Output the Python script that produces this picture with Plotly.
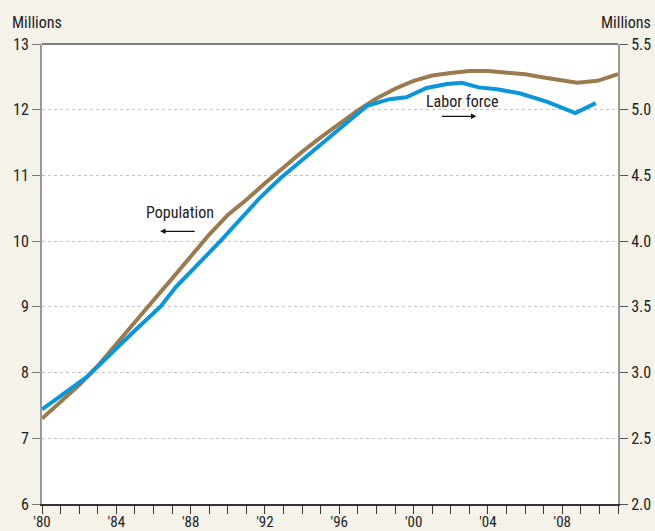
import plotly.graph_objects as go

# Population (left axis, millions)
pop_years = [1980, 1981, 1982, 1983, 1984, 1985, 1986, 1987, 1988, 1989, 1990,
             1991, 1992, 1993, 1994, 1995, 1996, 1997, 1998, 1999, 2000, 2001,
             2002, 2003, 2004, 2005, 2006, 2007, 2008, 2008.8, 2009.9, 2011]
population = [7.30, 7.55, 7.81, 8.10, 8.44, 8.77, 9.10, 9.43, 9.77, 10.10, 10.40,
              10.63, 10.88, 11.13, 11.36, 11.58, 11.79, 11.99, 12.17, 12.32, 12.44, 12.52,
              12.56, 12.59, 12.59, 12.57, 12.54, 12.49, 12.44, 12.41, 12.44, 12.54]

# Labor force (right axis, millions)
lf_years = [1980, 1982.4, 1985, 1986.4, 1987.2, 1989.6, 1991.7, 1992.8, 1997.5,
            1998.7, 1999.6, 2000.7, 2001.8, 2002.6, 2003.5, 2004.5, 2005.7, 2007.2,
            2008.7, 2009.8]
labor_force = [2.72, 2.965, 3.32, 3.505, 3.65, 4.0, 4.325, 4.475, 5.03,
               5.08, 5.095, 5.165, 5.195, 5.205, 5.17, 5.155, 5.125, 5.06,
               4.975, 5.05]

tick_years = list(range(1980, 2012))
tick_labels = ["'" + str(y)[2:] if (y - 1980) % 4 == 0 else "" for y in tick_years]
left_ticks = [6, 7, 8, 9, 10, 11, 12, 13]
right_ticks = [2.0, 2.5, 3.0, 3.5, 4.0, 4.5, 5.0, 5.5]

BROWN = "#9a7a4f"
BLUE = "#0a96d8"
BG = "#f5f2ea"
FONT = "Liberation Sans Narrow, Roboto Condensed, Arial Narrow, sans-serif"

fig = go.Figure()
fig.add_trace(go.Scatter(x=pop_years, y=population, mode="lines",
                         line=dict(color=BROWN, width=4), yaxis="y",
                         showlegend=False, hoverinfo="skip"))
fig.add_trace(go.Scatter(x=lf_years, y=labor_force, mode="lines",
                         line=dict(color=BLUE, width=4), yaxis="y2",
                         showlegend=False, hoverinfo="skip"))

fig.update_layout(
    template="none",
    width=655, height=531, autosize=False,
    paper_bgcolor=BG, plot_bgcolor="white",
    margin=dict(l=42, r=37, t=44, b=27, pad=0),
    font=dict(family=FONT, size=16, color="#222"),
    xaxis=dict(range=[1980, 2011], tickvals=tick_years, ticktext=tick_labels,
               ticks="outside", ticklen=8, tickcolor="#333", tickwidth=1,
               ticklabelstandoff=-5,
               showline=True, linecolor="#333", linewidth=1.5, mirror=False,
               showgrid=False, zeroline=False, automargin=False,
               tickfont=dict(size=15)),
    yaxis=dict(range=[6, 13], tickvals=left_ticks, ticks="outside", ticklen=8,
               tickcolor="#777", tickwidth=1, showline=True, linecolor="#999", linewidth=2,
               showgrid=True, gridcolor="#c4c4c4", griddash="dot", gridwidth=1,
               zeroline=False, automargin=False, tickfont=dict(size=16)),
    yaxis2=dict(range=[2.0, 5.5], tickvals=right_ticks, tickformat=".1f",
                overlaying="y", side="right", ticks="outside", ticklen=8,
                tickcolor="#555", tickwidth=1, showline=True, linecolor="#999", linewidth=2,
                showgrid=False, zeroline=False, automargin=False, tickfont=dict(size=16)),
    shapes=[dict(type="line", xref="paper", yref="paper", x0=0, x1=1, y0=1, y1=1,
                 line=dict(color="#555", width=1.5))],
    annotations=[
        dict(text="Millions", xref="paper", yref="paper", x=-0.055, y=1.047,
             xanchor="left", yanchor="middle", showarrow=False, font=dict(size=16)),
        dict(text="Millions", xref="paper", yref="paper", x=1.061, y=1.047,
             xanchor="right", yanchor="middle", showarrow=False, font=dict(size=16)),
        dict(text="Population", x=1987.4, y=10.44, xref="x", yref="y",
             showarrow=False, font=dict(size=16)),
        dict(text="", x=1986.36, y=10.15, xref="x", yref="y", ax=36, ay=0,
             showarrow=True, arrowhead=2, arrowsize=0.9, arrowwidth=1.2,
             arrowcolor="#111"),
        dict(text="Labor force", x=2002.58, y=12.13, xref="x", yref="y",
             showarrow=False, font=dict(size=16)),
        dict(text="", x=2003.38, y=11.90, xref="x", yref="y", ax=-36, ay=0,
             showarrow=True, arrowhead=2, arrowsize=0.9, arrowwidth=1.2,
             arrowcolor="#111"),
    ],
)

fig.write_html(
    "out.html",
    config={"displayModeBar": False},
    post_script="document.body.style.margin='0';document.body.style.padding='0';"
                "document.body.style.background='#f5f2ea';"
                "document.body.style.overflow='hidden';",
)
